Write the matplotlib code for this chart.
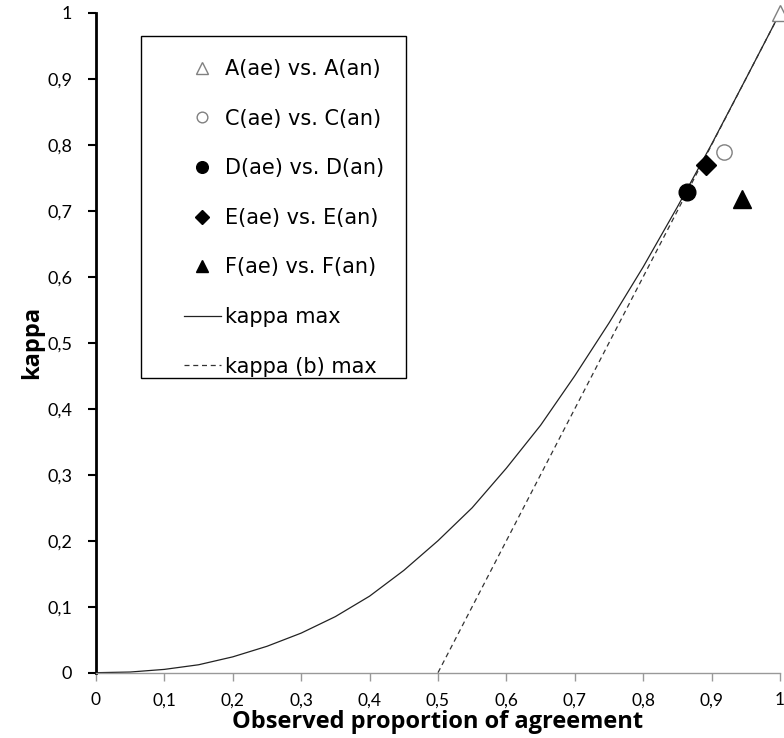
import matplotlib
matplotlib.use("Agg")
import matplotlib.pyplot as plt
from matplotlib.patches import Rectangle

# observed proportion of agreement vs kappa
curve_x = [0, 0.05, 0.1, 0.15, 0.2, 0.25, 0.3, 0.35, 0.4, 0.45, 0.5, 0.55, 0.6, 0.65, 0.7, 0.75, 0.8, 0.85, 0.9, 0.95, 1.0]
curve_y = [0, 0.001, 0.005, 0.012, 0.024, 0.040, 0.060, 0.085, 0.116, 0.155, 0.200, 0.250, 0.310, 0.375, 0.450, 0.530, 0.615, 0.706, 0.801, 0.900, 1.0]

dash_x = [0.5, 1.0]
dash_y = [0.0, 1.0]

labels = ["A(ae) vs. A(an)", "C(ae) vs. C(an)", "D(ae) vs. D(an)", "E(ae) vs. E(an)", "F(ae) vs. F(an)"]
pts_x = [1.0, 0.918, 0.864, 0.892, 0.945]
pts_y = [1.0, 0.789, 0.729, 0.770, 0.718]

ticks = [0, 0.1, 0.2, 0.3, 0.4, 0.5, 0.6, 0.7, 0.8, 0.9, 1]
tick_labels = ["0", "0,1", "0,2", "0,3", "0,4", "0,5", "0,6", "0,7", "0,8", "0,9", "1"]

fig = plt.figure(figsize=(7.84, 7.38), dpi=100)
ax = fig.add_axes([0.1224, 0.0885, 0.8725, 0.894])

styles = [
    dict(marker="^", ms=12, mfc="white", mec="#808080", mew=1.0),
    dict(marker="o", ms=11, mfc="white", mec="#808080", mew=1.0),
    dict(marker="o", ms=12, mfc="black", mec="black", mew=1.0),
    dict(marker="D", ms=10, mfc="black", mec="black", mew=1.0),
    dict(marker="^", ms=13, mfc="black", mec="black", mew=1.0),
]
for lab, x, y, st in zip(labels, pts_x, pts_y, styles):
    ax.plot([x], [y], linestyle="none", label=lab, clip_on=False, zorder=5, **st)

ax.plot(curve_x, curve_y, color="#222222", lw=0.9, label="kappa max", clip_on=False)
ax.plot(dash_x, dash_y, color="#333333", lw=0.9, linestyle=(0, (4, 3)), label="kappa (b) max", clip_on=False)

ax.set_xlim(0, 1)
ax.set_ylim(0, 1)
ax.set_xticks(ticks)
ax.set_yticks(ticks)
ax.set_xticklabels(tick_labels, fontfamily="Lato", fontsize=12.5)
ax.set_yticklabels(tick_labels, fontfamily="Lato", fontsize=13)

ax.spines["top"].set_visible(False)
ax.spines["right"].set_visible(False)
ax.spines["left"].set_linewidth(2)
ax.spines["left"].set_color("black")
ax.spines["bottom"].set_linewidth(1)
ax.spines["bottom"].set_color("#999999")
ax.tick_params(axis="y", direction="out", length=6, width=1.5, color="black", pad=11)
ax.tick_params(axis="x", direction="out", length=6, width=1, color="#999999", pad=8)

ax.set_xlabel("Observed proportion of agreement", fontfamily="Open Sans", fontweight="bold", fontsize=17)
ax.xaxis.set_label_coords(0.5, -0.057)
ax.set_ylabel("kappa", fontfamily="Open Sans", fontweight="bold", fontsize=17, labelpad=2)

# legend box drawn separately (text is not centred in it)
ax.add_patch(Rectangle((0.0658, 0.447), 0.387, 0.518, transform=ax.transAxes,
                       facecolor="white", edgecolor="black", lw=1.0, zorder=6, clip_on=False))
leg = ax.legend(loc="upper left", bbox_to_anchor=(0.128, 0.93), borderaxespad=0, borderpad=0,
                prop={"family": "DejaVu Sans", "size": 15}, labelspacing=1.42, handletextpad=0.2,
                markerscale=0.7, frameon=False, handlelength=1.8)
leg.set_zorder(7)

fig.savefig("out.png", dpi=100)
